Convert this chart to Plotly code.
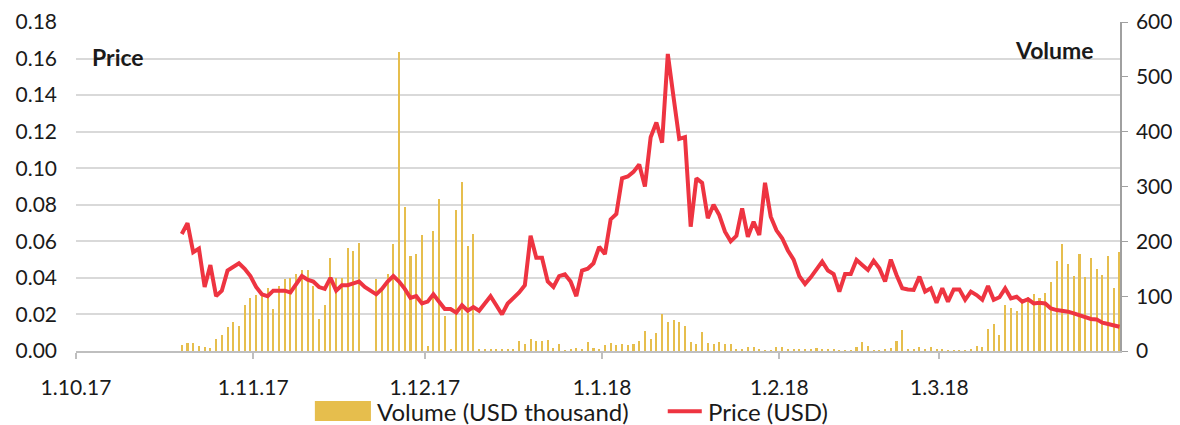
import pandas as pd
import plotly.graph_objects as go

start_date = "2017-10-19"

price_usd = [
    0.064, 0.070, 0.054, 0.056, 0.035, 0.047, 0.030, 0.033, 0.044, 0.046,
    0.048, 0.045, 0.041, 0.035, 0.031, 0.030, 0.033, 0.033, 0.033, 0.032,
    0.037, 0.041, 0.039, 0.038, 0.035, 0.034, 0.040, 0.033, 0.036, 0.036,
    0.037, 0.038, 0.035, 0.033, 0.031, 0.034, 0.038, 0.041, 0.038, 0.034,
    0.029, 0.030, 0.026, 0.027, 0.031, 0.027, 0.023, 0.023, 0.021, 0.025,
    0.022, 0.024, 0.022, 0.026, 0.030, 0.025, 0.020, 0.026, 0.029, 0.032,
    0.036, 0.063, 0.051, 0.051, 0.038, 0.035, 0.041, 0.042, 0.038, 0.030,
    0.044, 0.045, 0.048, 0.057, 0.053, 0.072, 0.075, 0.0945, 0.0955, 0.098,
    0.102, 0.090, 0.117, 0.125, 0.114, 0.1625, 0.139, 0.116, 0.117, 0.068,
    0.0945, 0.092, 0.0726, 0.080, 0.0744, 0.0653, 0.060, 0.063, 0.078, 0.0625,
    0.0707, 0.0635, 0.092, 0.0735, 0.066, 0.0617, 0.055, 0.050, 0.041, 0.0367,
    0.0403, 0.0443, 0.0489, 0.044, 0.0421, 0.0325, 0.0421, 0.0421, 0.0498, 0.047,
    0.0443, 0.0494, 0.0452, 0.038, 0.050, 0.0416, 0.0343, 0.0337, 0.0334, 0.0407,
    0.0325, 0.0343, 0.0264, 0.0343, 0.027, 0.0337, 0.0337, 0.028, 0.0325, 0.0306,
    0.028, 0.0356, 0.028, 0.0294, 0.0343, 0.0288, 0.0297, 0.027, 0.0283, 0.026,
    0.0264, 0.026, 0.0233, 0.0224, 0.022, 0.0215, 0.0206, 0.0197, 0.0188, 0.0175,
    0.0173, 0.0155, 0.0148, 0.0142, 0.0133,
]

volume_usd_k = [
    11, 14, 14, 9, 7, 5, 21, 29, 43, 52,
    46, 83, 96, 102, 104, 114, 77, 119, 131, 134,
    140, 148, 148, 119, 58, 83, 169, 133, 133, 187,
    182, 197, 0, 0, 131, 117, 140, 195, 545, 262,
    173, 177, 212, 9, 219, 277, 63, 2, 258, 309,
    191, 213, 2, 3, 3, 3, 2, 2, 2, 18,
    12, 22, 18, 18, 20, 5, 12, 1, 3, 6,
    3, 17, 6, 2, 11, 14, 11, 13, 11, 13,
    18, 36, 22, 33, 67, 52, 57, 52, 46, 17,
    13, 34, 15, 13, 16, 13, 13, 4, 3, 8,
    8, 2, 1, 1, 7, 8, 3, 4, 3, 2,
    2, 5, 2, 2, 2, 1, 1, 1, 8, 17,
    9, 1, 1, 2, 5, 18, 38, 4, 3, 7,
    2, 8, 2, 3, 1, 1, 1, 1, 3, 9,
    8, 40, 50, 29, 84, 79, 73, 87, 99, 104,
    96, 106, 125, 164, 196, 159, 137, 177, 135, 170,
    149, 138, 174, 115, 180,
]

tick_dates = ["2017-10-01", "2017-11-01", "2017-12-01", "2018-01-01", "2018-02-01", "2018-03-01"]
tick_labels = ["1.10.17", "1.11.17", "1.12.17", "1.1.18", "1.2.18", "1.3.18"]

price_ticks = [0.00, 0.02, 0.04, 0.06, 0.08, 0.10, 0.12, 0.14, 0.16, 0.18]
volume_ticks = [0, 100, 200, 300, 400, 500, 600]

volume_name = "Volume (USD thousand)"
price_name = "Price (USD)"

dates = pd.date_range(start_date, periods=len(price_usd), freq="D") + pd.Timedelta(hours=12)

FONT = "Lato"
BAR_COLOR = "#E6BE4D"
LINE_COLOR = "#EE3441"
TXT = "#1a1a1a"

fig = go.Figure()
fig.add_trace(go.Bar(
    x=dates, y=volume_usd_k, name=volume_name,
    marker=dict(color=BAR_COLOR, line=dict(width=0)),
    width=0.36 * 86400000, yaxis="y", showlegend=False,
))
fig.add_trace(go.Scatter(
    x=dates, y=price_usd, name=price_name, mode="lines",
    line=dict(color=LINE_COLOR, width=4), yaxis="y2", showlegend=False,
))

# custom legend (wide swatch like the original)
legend_y = -0.183
shapes = [
    dict(type="rect", xref="paper", yref="paper", x0=0.2288, x1=0.2825,
         y0=-0.2128, y1=-0.152, fillcolor=BAR_COLOR, line=dict(width=0)),
    dict(type="line", xref="paper", yref="paper", x0=0.5668, x1=0.5994,
         y0=legend_y, y1=legend_y, line=dict(color=LINE_COLOR, width=4)),
]

# the page body adds an 8px margin, so the figure is sized to fit the window
fig.update_layout(
    width=1172, height=417,
    margin=dict(l=68, r=60, t=14, b=74, autoexpand=False),
    plot_bgcolor="white", paper_bgcolor="white",
    font=dict(family=FONT, size=20, color=TXT),
    bargap=0,
    showlegend=False,
    shapes=shapes,
    xaxis=dict(
        type="date", range=["2017-10-01", "2018-04-01 14:00"],
        tickmode="array", tickvals=tick_dates, ticktext=tick_labels,
        ticks="outside", ticklen=6, tickcolor="#bfbfbf", tickwidth=1.5,
        showline=True, linecolor="#bfbfbf", linewidth=1.5,
        showgrid=False, zeroline=False, tickfont=dict(size=21),
        ticklabelstandoff=11,
    ),
    yaxis=dict(
        side="right", range=[0, 600], tickmode="array", tickvals=volume_ticks,
        showgrid=False, zeroline=False, showline=True, linecolor="#a0a0a0", linewidth=1.5,
        ticks="outside", ticklen=6, tickcolor="#a0a0a0", tickfont=dict(size=21),
        ticklabelstandoff=4,
    ),
    yaxis2=dict(
        overlaying="y", side="left", range=[0, 0.18], tickmode="array",
        tickvals=price_ticks, tickformat=".2f",
        showgrid=True, gridcolor="#d9d9d9", gridwidth=1.5,
        zeroline=False, showline=False, ticks="", tickfont=dict(size=21),
        ticklabelstandoff=18,
    ),
    annotations=[
        dict(text="<b>Price</b>", xref="paper", yref="paper", x=0.040, y=0.894,
             xanchor="center", yanchor="middle", showarrow=False, font=dict(size=23)),
        dict(text="<b>Volume</b>", xref="paper", yref="paper", x=0.937, y=0.915,
             xanchor="center", yanchor="middle", showarrow=False, font=dict(size=23)),
        dict(text=volume_name, xref="paper", yref="paper", x=0.2863, y=legend_y,
             xanchor="left", yanchor="middle", showarrow=False, font=dict(size=24)),
        dict(text=price_name, xref="paper", yref="paper", x=0.6032, y=legend_y,
             xanchor="left", yanchor="middle", showarrow=False, font=dict(size=24)),
    ],
)

fig.write_html("out.html")
